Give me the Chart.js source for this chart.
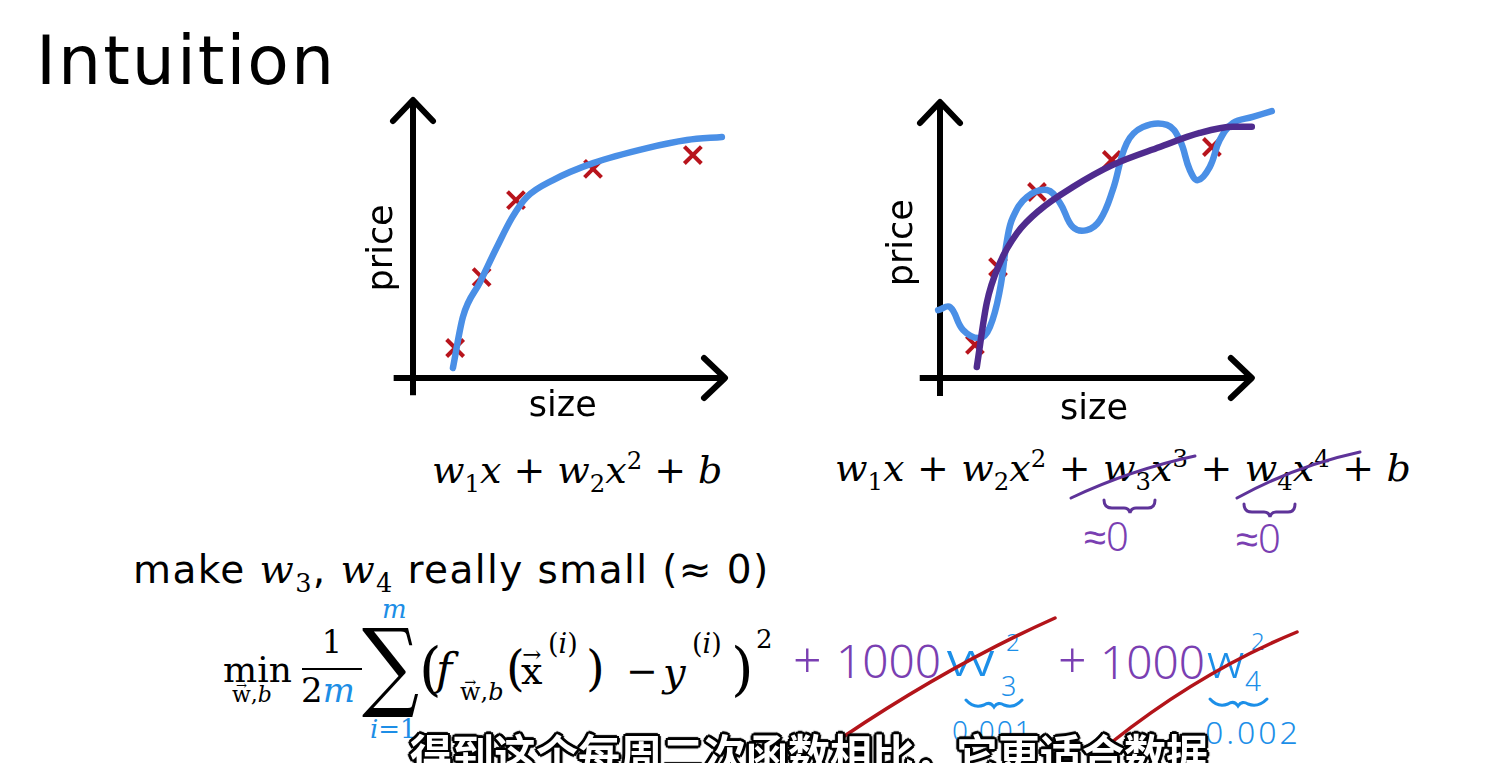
<!DOCTYPE html>
<html>
<head>
<meta charset="utf-8">
<title>Intuition</title>
<script src="https://cdn.jsdelivr.net/npm/chart.js@4.4.0/dist/chart.umd.min.js"></script>
<style>
  html, body { margin: 0; padding: 0; }
  body { width: 1485px; height: 763px; overflow: hidden; background: #fff; position: relative;
         font-family: "DejaVu Sans", Verdana, sans-serif; color: #000; }
  .abs { position: absolute; white-space: nowrap; line-height: 1; }
  canvas { position: absolute; }
  .m { font-family: "DejaVu Serif", serif; font-size: 38px; }
  .m i { font-style: italic; }
  .m sub, .m sup { font-size: 0.64em; font-style: normal; line-height: 0; }
  .op { margin: 0 12.5px; }
  .vec { position: relative; display: inline-block; }
  .vec .arr { position: absolute; left: 0; right: 0; text-align: center; font-size: 0.6em; top: -0.38em; font-style: normal; }
  .blue { color: #1d8ee6; }
  .hand { font-family: "Noto Sans", sans-serif; font-weight: 300; }
  .purple { color: #7a3fb2; }
  .hblue { color: #1c8fe8; }
  .wide { display: inline-block; transform: scaleX(1.45); transform-origin: left center; }
  #sub { left: 410px; top: 731px; font-family: "Noto Sans CJK SC", sans-serif; font-weight: 700; font-size: 42px;
         color: #fff;
         text-shadow: 2px 0 0 #000, -2px 0 0 #000, 0 2px 0 #000, 0 -2px 0 #000,
                      2px 2px 0 #000, -2px -2px 0 #000, 2px -2px 0 #000, -2px 2px 0 #000,
                      3px 0 1px #000, -3px 0 1px #000, 0 3px 1px #000, 0 -3px 1px #000; }
</style>
</head>
<body>

<div class="abs" style="left:36px;top:27px;font-size:68px;letter-spacing:2px;">Intuition</div>

<canvas id="leftChart" width="390" height="340" style="left:350px;top:90px;"></canvas>
<canvas id="rightChart" width="420" height="340" style="left:870px;top:90px;"></canvas>

<!-- model formulas -->
<div class="abs m" style="left:432px;top:451px;">
  <i>w</i><sub>1</sub><i>x</i><span class="op" style="margin:0 12px;">+</span><i>w</i><sub>2</sub><i>x</i><sup>2</sup><span class="op" style="margin:0 12px;">+</span><i>b</i>
</div>
<div class="abs m" style="left:835px;top:449px;">
  <i>w</i><sub>1</sub><i>x</i><span class="op">+</span><i>w</i><sub>2</sub><i>x</i><sup>2</sup><span class="op">+</span><i>w</i><sub>3</sub><i>x</i><sup>3</sup><span class="op">+</span><i>w</i><sub>4</sub><i>x</i><sup>4</sup><span class="op">+</span><i>b</i>
</div>

<div class="abs" style="left:133px;top:549px;font-size:39px;letter-spacing:1.4px;">make <span class="m" style="font-size:40px;"><i>w</i><sub>3</sub></span>, <span class="m" style="font-size:40px;"><i>w</i><sub>4</sub></span> really small (≈ 0)</div>

<!-- regularized cost -->
<div class="abs m" style="left:223px;top:652px;font-size:36px;">min</div>
<div class="abs m" style="left:232px;top:684px;font-size:22px;"><span class="vec"><span class="arr">→</span>w</span>,<i>b</i></div>
<div class="abs m" style="left:302px;top:626px;font-size:32px;width:60px;text-align:center;">1</div>
<div class="abs" style="left:302px;top:668px;width:60px;height:2px;background:#000;"></div>
<div class="abs m" style="left:301px;top:673px;font-size:34px;">2<i class="blue">m</i></div>
<div class="abs m blue" style="left:382px;top:596px;font-size:26px;"><i>m</i></div>
<div class="abs m" style="left:362px;top:616px;font-size:80px;transform:scaleY(1.22);transform-origin:center top;">∑</div>
<div class="abs m blue" style="left:370px;top:716px;font-size:26px;"><i>i</i>=1</div>

<div class="abs m" style="left:419px;top:640px;font-size:58px;">(</div>
<div class="abs m" style="left:436px;top:648px;font-size:44px;"><i>f</i></div>
<div class="abs m" style="left:460px;top:680px;font-size:24px;"><span class="vec"><span class="arr">→</span>w</span>,<i>b</i></div>
<div class="abs m" style="left:506px;top:644px;font-size:48px;">(</div>
<div class="abs m" style="left:521px;top:652px;font-size:38px;"><span class="vec"><span class="arr">→</span>x</span></div>
<div class="abs m" style="left:548px;top:630px;font-size:27px;">(<i>i</i>)</div>
<div class="abs m" style="left:586px;top:644px;font-size:48px;">)</div>
<div class="abs m" style="left:626px;top:652px;font-size:38px;">−</div>
<div class="abs m" style="left:663px;top:652px;font-size:40px;"><i>y</i></div>
<div class="abs m" style="left:692px;top:630px;font-size:27px;">(<i>i</i>)</div>
<div class="abs m" style="left:731px;top:640px;font-size:58px;">)</div>
<div class="abs m" style="left:756px;top:626px;font-size:26px;">2</div>

<!-- handwritten annotations -->
<div class="abs hand purple" style="left:793px;top:634px;font-size:50px;">+</div>
<div class="abs hand purple" style="left:836px;top:637px;font-size:46px;">1000</div>
<div class="abs hand hblue" style="left:946px;top:635px;font-size:46px;"><span class="wide">w</span></div>
<div class="abs hand hblue" style="left:1006px;top:630px;font-size:24px;">2</div>
<div class="abs hand hblue" style="left:1001px;top:672px;font-size:27px;">3</div>
<div class="abs hand hblue" style="left:952px;top:716px;font-size:28px;letter-spacing:2px;">0.001</div>
<div class="abs hand purple" style="left:1058px;top:634px;font-size:50px;">+</div>
<div class="abs hand purple" style="left:1100px;top:638px;font-size:46px;">1000</div>
<div class="abs hand hblue" style="left:1207px;top:637px;font-size:46px;"><span class="wide" style="transform:scaleX(1.1);">w</span></div>
<div class="abs hand hblue" style="left:1251px;top:629px;font-size:24px;">2</div>
<div class="abs hand hblue" style="left:1245px;top:666px;font-size:28px;">4</div>
<div class="abs hand hblue" style="left:1205px;top:716px;font-size:32px;letter-spacing:3px;">0.002</div>
<div class="abs hand purple" style="left:1084px;top:516px;font-size:40px;">≈0</div>
<div class="abs hand purple" style="left:1236px;top:518px;font-size:40px;">≈0</div>

<svg class="abs" width="1485" height="763" style="left:0;top:0;">
  <g fill="none" stroke="#5e3399" stroke-width="3" stroke-linecap="round">
    <path d="M1071 498 Q1130 470 1195 456"/>
    <path d="M1237 498 Q1295 466 1360 452"/>
    <path d="M1104 500 Q1104 508 1112 508 L1124 508 Q1129 508 1130 513 Q1131 508 1136 508 L1148 508 Q1155 508 1155 500"/>
    <path d="M1244 504 Q1244 512 1252 512 L1264 512 Q1269 512 1270 517 Q1271 512 1276 512 L1288 512 Q1295 512 1295 504"/>
  </g>
  <g fill="none" stroke="#1c8fe8" stroke-width="3" stroke-linecap="round">
    <path d="M966 700 Q974 709 984 705 Q990 701 994 707 Q998 701 1004 705 Q1014 709 1022 700"/>
    <path d="M1210 699 Q1218 708 1228 704 Q1234 700 1238 706 Q1242 700 1248 704 Q1258 708 1267 699"/>
  </g>
  <g fill="none" stroke="#b3141a" stroke-width="3.5" stroke-linecap="round">
    <path d="M843 737 Q950 665 1055 618"/>
    <path d="M1112 742 Q1200 672 1297 632"/>
  </g>
</svg>

<div id="sub" class="abs">得到这个每周二次函数相比，它更适合数据</div>

<script>
// left plot: data and quadratic fit
const leftSize = [1.35, 2.2, 3.3, 5.77, 8.97];
const leftPrice = [1.08, 3.63, 6.4, 7.52, 8.02];
const leftFitX = [1.28, 1.6, 2.15, 2.69, 3.17, 3.65, 4.49, 5.77, 7.5, 8.78, 9.9];
const leftFitY = [0.36, 2.2, 3.45, 4.71, 5.76, 6.51, 7.12, 7.73, 8.27, 8.56, 8.67];

// right plot: data, overfit curve (blue) and regularized curve (purple)
const rightSize = [1.12, 1.86, 3.11, 5.51, 8.72];
const rightPrice = [1.2, 4.02, 6.74, 7.9, 8.37];
const overfitX = [-0.06, 0.32, 0.74, 1.28, 1.6, 1.92, 2.15, 2.34, 2.79, 3.43, 3.85, 4.26, 4.71, 5.13, 5.54, 5.99, 6.5, 7.28, 7.69, 8.01, 8.27, 8.65, 8.97, 9.4, 10.03, 10.64];
const overfitY = [2.46, 2.57, 1.74, 1.45, 1.85, 3.19, 5.0, 5.83, 6.56, 6.81, 6.34, 5.47, 5.36, 5.72, 6.81, 8.51, 9.09, 9.17, 8.62, 7.54, 7.17, 7.64, 8.62, 9.24, 9.46, 9.67];
const smoothX = [1.18, 1.5, 1.92, 2.47, 3.2, 4.26, 5.54, 7.05, 8.33, 9.4, 10];
const smoothY = [0.4, 2.72, 4.17, 5.25, 6.09, 6.92, 7.72, 8.37, 8.88, 9.1, 9.1];

const BLUE = '#4a8fe6', PURPLE = '#4f2b8e', RED = '#b8141c';
const AXIS_END = 10;

const zip = (xs, ys) => xs.map((x, i) => ({ x, y: ys[i] }));

// hand-drawn style axes with arrow heads plus the axis words
const arrowAxes = {
    id: 'arrowAxes',
    beforeDatasetsDraw(chart, args, opts) {
        const { ctx, scales: { x, y } } = chart;
        const x0 = x.getPixelForValue(0), y0 = y.getPixelForValue(0);
        const xTip = x.getPixelForValue(AXIS_END), yTip = y.getPixelForValue(AXIS_END);
        ctx.save();
        ctx.strokeStyle = '#000';
        ctx.lineWidth = 6;
        ctx.lineJoin = 'round';
        ctx.lineCap = 'butt';
        ctx.beginPath();
        ctx.moveTo(x0, y.getPixelForValue(opts.under));
        ctx.lineTo(x0, yTip + 2);
        ctx.moveTo(x.getPixelForValue(opts.under), y0);
        ctx.lineTo(xTip - 2, y0);
        ctx.stroke();
        ctx.lineCap = 'round';
        ctx.beginPath();
        ctx.moveTo(x0 - 20, yTip + 21);
        ctx.lineTo(x0, yTip);
        ctx.lineTo(x0 + 20, yTip + 21);
        ctx.moveTo(xTip - 21, y0 - 20);
        ctx.lineTo(xTip, y0);
        ctx.lineTo(xTip - 21, y0 + 20);
        ctx.stroke();

        ctx.fillStyle = '#000';
        ctx.font = '35px "DejaVu Sans", Verdana, sans-serif';
        ctx.textAlign = 'center';
        ctx.textBaseline = 'middle';
        ctx.fillText('size', x.getPixelForValue(opts.sizeAt[0]), y.getPixelForValue(opts.sizeAt[1]));
        ctx.translate(x.getPixelForValue(opts.priceAt[0]), y.getPixelForValue(opts.priceAt[1]));
        ctx.rotate(-Math.PI / 2);
        ctx.fillText('price', 0, 0);
        ctx.restore();
    }
};

function makeChart(id, padding, xMax, datasets, axisOpts) {
    return new Chart(document.getElementById(id), {
        type: 'scatter',
        data: { datasets },
        options: {
            responsive: false,
            animation: false,
            events: [],
            layout: { padding, autoPadding: false },
            plugins: { legend: { display: false }, tooltip: { enabled: false }, arrowAxes: axisOpts },
            scales: {
                x: { type: 'linear', min: 0, max: xMax, display: false },
                y: { type: 'linear', min: 0, max: 10, display: false }
            }
        },
        plugins: [arrowAxes]
    });
}

const crosses = (pts) => ({
    data: pts, showLine: false, pointStyle: 'crossRot', pointRadius: 12,
    borderColor: RED, borderWidth: 4, order: 5, clip: false
});
const curve = (pts, color, smooth) => ({
    data: pts, showLine: true, pointRadius: 0, borderColor: color, borderWidth: 6.5,
    borderCapStyle: 'round', borderJoinStyle: 'round', clip: false,
    cubicInterpolationMode: smooth ? 'monotone' : 'default', tension: 0.4
});

makeChart('leftChart', { left: 63, right: 15, top: 10, bottom: 52 }, 10, [
    crosses(zip(leftSize, leftPrice)),
    { ...curve(zip(leftFitX, leftFitY), BLUE, true), order: 1 }
], { under: -0.62, sizeAt: [4.8, -1.05], priceAt: [-0.95, 4.68] });

// x runs to 11 here so the wiggly curve past the arrow tip is still drawn
makeChart('rightChart', { left: 70, right: 7, top: 12, bottom: 52 }, 11, [
    crosses(zip(rightSize, rightPrice)),
    { ...curve(zip(overfitX, overfitY), BLUE, false), order: 2 },
    { ...curve(zip(smoothX, smoothY), PURPLE, true), order: 1 }
], { under: -0.65, sizeAt: [4.94, -1.15], priceAt: [-1.2, 4.9] });
</script>
</body>
</html>
